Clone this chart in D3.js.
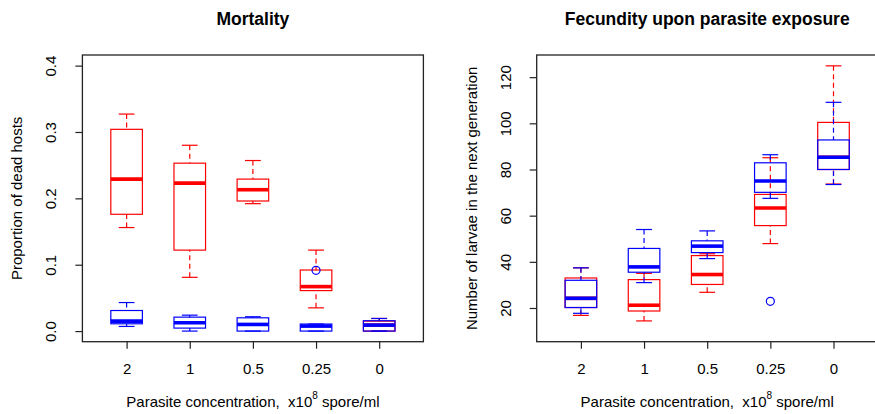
<!DOCTYPE html>
<html>
<head>
<meta charset="utf-8">
<script src="https://cdn.jsdelivr.net/npm/d3@7"></script>
<style>
	body { margin: 0; background: #fff; }
	text { font-family: "Liberation Sans", Arial, sans-serif; white-space: pre; }
</style>
</head>
<body>
<svg id="chart" width="875" height="414"></svg>
<script>
// groups (x axis, left to right)
var concLabels = ["2", "1", "0.5", "0.25", "0"];

// five number summaries per group: [low whisker, q1, median, q3, high whisker]
var mortRed = [
	[0.156, 0.176, 0.229, 0.304, 0.327],
	[0.081, 0.122, 0.223, 0.253, 0.280],
	[0.192, 0.196, 0.213, 0.229, 0.257],
	[0.035, 0.061, 0.067, 0.092, 0.122],
	[0.000, 0.000, 0.009, 0.015, 0.019]
];
var mortBlue = [
	[0.007, 0.011, 0.015, 0.031, 0.043],
	[0.000, 0.0045, 0.0126, 0.021, 0.024],
	[0.000, 0.000, 0.010, 0.020, 0.0216],
	[0.000, 0.000, 0.0075, 0.0106, 0.0106],
	[0.000, 0.000, 0.009, 0.0156, 0.019]
];
var mortBlueOut = [{ g: 4, v: 0.0916 }];
var mortTicks = [0, 0.1, 0.2, 0.3, 0.4];

var fecRed = [
	[16.8, 20.2, 24.2, 33.0, 37.4],
	[14.4, 18.7, 21.2, 32.3, 35.0],
	[26.8, 30.2, 34.5, 42.7, 43.5],
	[47.9, 55.7, 63.3, 69.2, 85.1],
	[73.7, 80.0, 85.3, 100.4, 124.9]
];
var fecBlue = [
	[17.7, 20.2, 24.2, 32.0, 37.4],
	[31.0, 35.5, 37.8, 45.8, 54.0],
	[41.4, 44.0, 46.8, 49.1, 53.4],
	[67.5, 70.1, 75.0, 82.9, 86.4],
	[73.5, 80.0, 85.3, 92.8, 109.1]
];
var fecBlueOut = [{ g: 4, v: 22.9 }];
var fecTicks = [20, 40, 60, 80, 100, 120];

var svg = d3.select("#chart");
var top_ = 55, bottom_ = 341.7, pw = 341;
var fs = "15px";

function drawPanel(left, title, ylab, ylim, ticks, red, blue, outliers) {
	var pad = (ylim[1] - ylim[0]) * 0.04;
	var x = d3.scaleLinear().domain([0.3, 5.7]).range([left, left + pw]);
	var y = d3.scaleLinear().domain([ylim[0] - pad, ylim[1] + pad]).range([bottom_, top_]);
	var g = svg.append("g");
	var bw = x(1.25) - x(1), cw = x(1.125) - x(1);

	function boxes(data, col) {
		var b = g.append("g").selectAll("g").data(data).enter().append("g");
		// whiskers
		b.append("line").attr("x1", (d, i) => x(i + 1)).attr("x2", (d, i) => x(i + 1))
			.attr("y1", d => y(d[0])).attr("y2", d => y(d[1]))
			.attr("stroke", col).attr("stroke-width", 1.2).attr("stroke-dasharray", "5,3.5");
		b.append("line").attr("x1", (d, i) => x(i + 1)).attr("x2", (d, i) => x(i + 1))
			.attr("y1", d => y(d[4])).attr("y2", d => y(d[3]))
			.attr("stroke", col).attr("stroke-width", 1.2).attr("stroke-dasharray", "5,3.5");
		[0, 4].forEach(function (k) {
			b.append("line").attr("x1", (d, i) => x(i + 1) - cw).attr("x2", (d, i) => x(i + 1) + cw)
				.attr("y1", d => y(d[k])).attr("y2", d => y(d[k]))
				.attr("stroke", col).attr("stroke-width", 1.2);
		});
		b.append("rect")
			.attr("x", (d, i) => x(i + 1) - bw).attr("width", 2 * bw)
			.attr("y", d => y(d[3])).attr("height", d => y(d[1]) - y(d[3]))
			.attr("fill", "none").attr("stroke", col).attr("stroke-width", 1.2);
		b.append("line").attr("x1", (d, i) => x(i + 1) - bw).attr("x2", (d, i) => x(i + 1) + bw)
			.attr("y1", d => y(d[2])).attr("y2", d => y(d[2]))
			.attr("stroke", col).attr("stroke-width", 3.6);
	}
	boxes(red, "#ff0000");
	boxes(blue, "#0000ff");

	g.selectAll("circle.out").data(outliers).enter().append("circle")
		.attr("class", "out")
		.attr("cx", d => x(d.g)).attr("cy", d => y(d.v)).attr("r", 4)
		.attr("fill", "none").attr("stroke", "#0000ff").attr("stroke-width", 1.2);

	// frame
	g.append("rect").attr("x", left).attr("y", top_).attr("width", pw).attr("height", bottom_ - top_)
		.attr("fill", "none").attr("stroke", "#222").attr("stroke-width", 1.3);

	// axes
	var xa = g.append("g").attr("transform", "translate(0," + bottom_ + ")")
		.call(d3.axisBottom(x).tickValues([1, 2, 3, 4, 5]).tickFormat((d, i) => concLabels[i]).tickSize(7).tickSizeOuter(0));
	xa.select(".domain").remove();
	xa.selectAll("line").attr("stroke", "#222").attr("stroke-width", 1.2);
	xa.selectAll("text").attr("font-size", fs).attr("fill", "#000").attr("y", 0).attr("dy", 0)
		.attr("transform", "translate(0,32.3)")
		.style("font-family", '"Liberation Sans", Arial, sans-serif');

	var ya = g.append("g").attr("transform", "translate(" + left + ",0)")
		.call(d3.axisLeft(y).tickValues(ticks).tickFormat(d => ylim[1] < 1 ? d3.format(".1f")(d) : d).tickSize(7).tickSizeOuter(0));
	ya.select(".domain").remove();
	ya.selectAll("line").attr("stroke", "#222").attr("stroke-width", 1.2);
	ya.selectAll("text").attr("font-size", fs).attr("fill", "#000")
		.attr("x", 0).attr("dy", 0).attr("text-anchor", "middle")
		.attr("transform", "translate(-26,0) rotate(-90)")
		.style("font-family", '"Liberation Sans", Arial, sans-serif');

	var cx = left + pw / 2;
	svg.append("text").attr("x", cx).attr("y", 25).attr("text-anchor", "middle")
		.attr("font-size", "17.5px").attr("font-weight", "bold").text(title);

	var xt = svg.append("text").attr("x", cx).attr("y", 406.5).attr("text-anchor", "middle").attr("font-size", fs);
	xt.append("tspan").text("Parasite concentration,  x10");
	xt.append("tspan").attr("dy", -7.5).attr("font-size", "10px").text("8");
	xt.append("tspan").attr("dy", 7.5).text(" spore/ml");

	svg.append("text").attr("transform", "translate(" + (left - 60) + "," + ((top_ + bottom_) / 2) + ") rotate(-90)")
		.attr("text-anchor", "middle").attr("font-size", fs).text(ylab);
}

drawPanel(82.4, "Mortality", "Proportion of dead hosts", [0, 0.4], mortTicks, mortRed, mortBlue, mortBlueOut);
drawPanel(536.7, "Fecundity upon parasite exposure", "Number of larvae in the next generation", [10, 125], fecTicks, fecRed, fecBlue, fecBlueOut);
</script>
</body>
</html>
